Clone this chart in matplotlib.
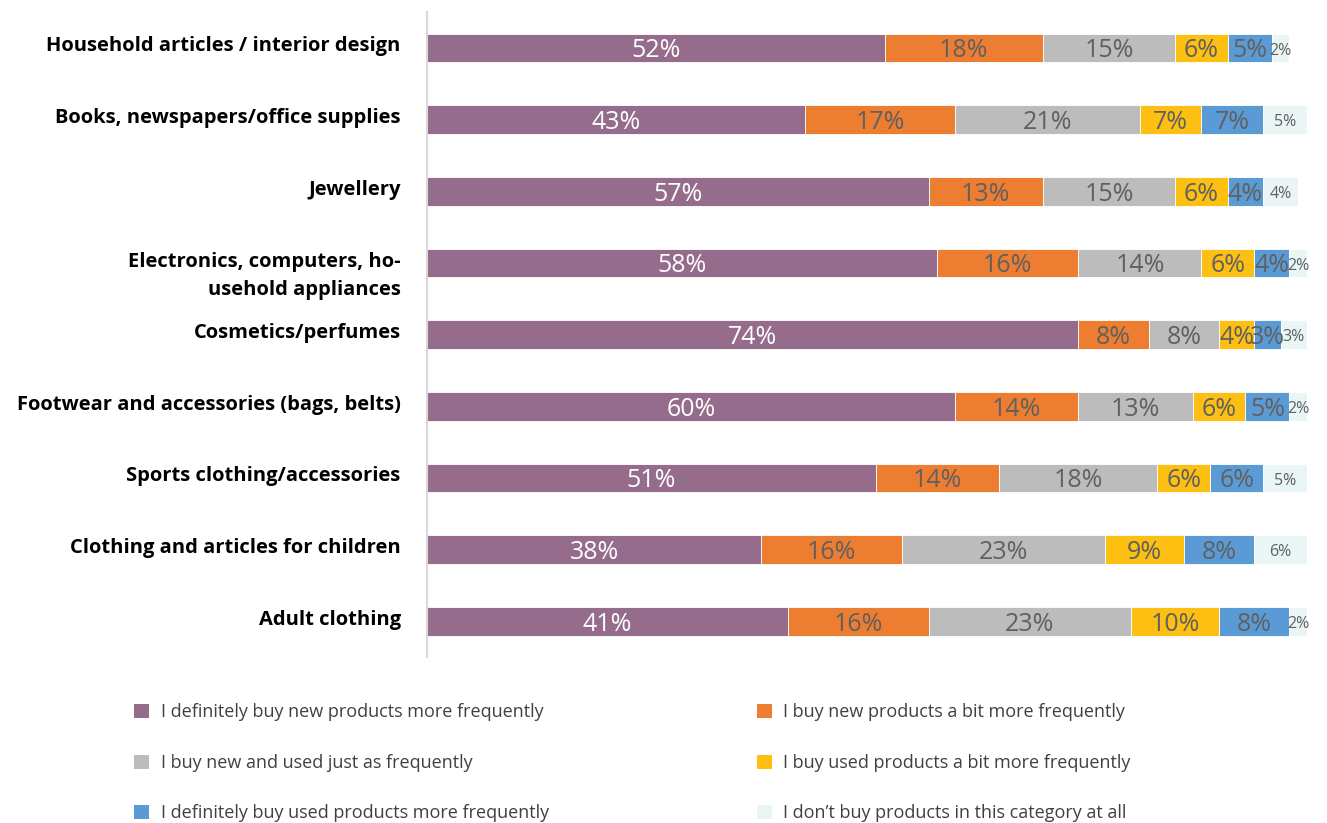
import matplotlib.pyplot as plt
from matplotlib.patches import Patch
from matplotlib.transforms import ScaledTranslation

categories = [
    "Household articles / interior design",
    "Books, newspapers/office supplies",
    "Jewellery",
    "Electronics, computers, ho-\nusehold appliances",
    "Cosmetics/perfumes",
    "Footwear and accessories (bags, belts)",
    "Sports clothing/accessories",
    "Clothing and articles for children",
    "Adult clothing",
]

answers = [
    "I definitely buy new products more frequently",
    "I buy new products a bit more frequently",
    "I buy new and used just as frequently",
    "I buy used products a bit more frequently",
    "I definitely buy used products more frequently",
    "I don\u2019t buy products in this category at all",
]

# one list per answer, in category order (percent)
def_new = [52, 43, 57, 58, 74, 60, 51, 38, 41]
bit_new = [18, 17, 13, 16, 8, 14, 14, 16, 16]
same = [15, 21, 15, 14, 8, 13, 18, 23, 23]
bit_used = [6, 7, 6, 6, 4, 6, 6, 9, 10]
def_used = [5, 7, 4, 4, 3, 5, 6, 8, 8]
no_buy = [2, 5, 4, 2, 3, 2, 5, 6, 2]

series = [def_new, bit_new, same, bit_used, def_used, no_buy]
colors = ["#966C8C", "#ED7D31", "#BCBCBC", "#FDBF12", "#5B9BD5", "#EAF5F6"]
text_colors = ["white", "#606060", "#606060", "#606060", "#606060", "#606060"]

fig = plt.figure(figsize=(13.27, 8.23), dpi=100)
ax = fig.add_axes([0.3218, 0.2017, 0.6632, 0.7837])

y = list(range(len(categories)))
left = [0] * len(categories)
for i, vals in enumerate(series):
    bars = ax.barh(y, vals, left=left, height=0.4, color=colors[i],
                   edgecolor="white", linewidth=0.6)
    small = i == len(series) - 1
    for bar, v in zip(bars, vals):
        cx = bar.get_x() + bar.get_width() / 2
        cy = bar.get_y() + bar.get_height() / 2 + 0.04
        ax.text(cx, cy, f"{v}%", ha="center", va="center",
                fontsize=11.5 if small else 18, color=text_colors[i],
                family="Open Sans")
    left = [a + b for a, b in zip(left, vals)]

ax.set_xlim(0, 100)
ax.set_ylim(8.5, -0.5)
ax.set_xticks([])
ax.set_yticks(y)
ax.set_yticklabels(categories, fontsize=14.5, fontweight="bold",
                   family="Open Sans", linespacing=1.5)
ax.tick_params(axis="y", length=0, pad=19)

# nudge the category names a little above the bars (two-line one sits lower)
for lbl in ax.get_yticklabels():
    dy = -5 if "\n" in lbl.get_text() else 3
    lbl.set_transform(lbl.get_transform() + ScaledTranslation(0, dy / 72, fig.dpi_scale_trans))

for s in ["top", "right", "bottom"]:
    ax.spines[s].set_visible(False)
ax.spines["left"].set_color("#D9D9D9")
ax.spines["left"].set_linewidth(1.5)

# legend: left column purple/gray/blue, right column orange/yellow/light
order = [0, 2, 4, 1, 3, 5]
handles = [Patch(facecolor=colors[k], edgecolor="none") for k in order]
labels = [answers[k] for k in order]
fig.legend(handles, labels, ncol=2, loc="upper left",
           bbox_to_anchor=(0.089, 0.165), frameon=False,
           prop={"family": "Open Sans", "size": 13},
           handlelength=0.8, handleheight=0.8, handletextpad=0.65,
           labelspacing=1.8, columnspacing=11.55, labelcolor="#404040")

fig.savefig("out.png", dpi=100)
